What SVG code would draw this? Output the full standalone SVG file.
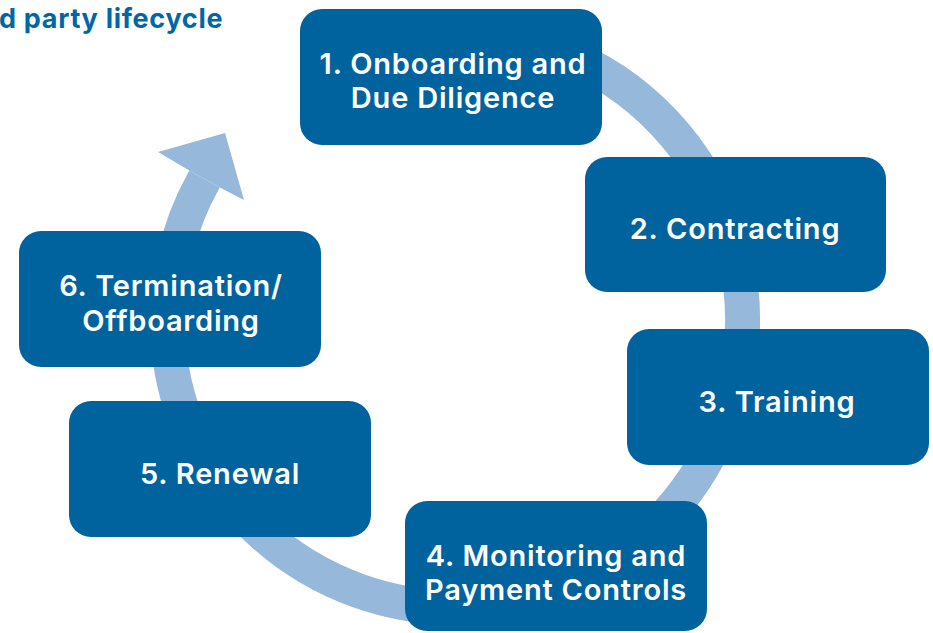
<svg xmlns="http://www.w3.org/2000/svg" width="933" height="633" viewBox="0 0 933 633">
<style>
.box{fill:#00639E}
.lbl{font-family:Inter,"Open Sans","Liberation Sans",sans-serif;font-weight:600;font-size:29px;letter-spacing:0.8px;fill:#ffffff;text-anchor:middle}
.title{font-family:Inter,"Open Sans","Liberation Sans",sans-serif;font-weight:700;font-size:27px;letter-spacing:0.7px;fill:#0067A5}
.ring{fill:none;stroke:#96B8DA;stroke-width:35}
</style>
<rect width="933" height="633" fill="#ffffff"/>
<text class="title" x="-1" y="28">d party lifecycle</text>
<g id="connectors">
<path class="ring" d="M 455 32.5 A 287.5 287.5 0 1 1 204.5 179"/>
<polygon points="189.3,170.4 158,152 225,133 244,200 219.8,187.5" fill="#96B8DA"/>
</g>
<g id="node1"><rect class="box" x="300" y="9" width="302" height="136" rx="22"/>
<text class="lbl" x="453" y="74">1. Onboarding and</text><text class="lbl" x="453" y="108">Due Diligence</text></g>
<g id="node2"><rect class="box" x="585" y="157" width="301" height="135" rx="22"/>
<text class="lbl" x="735" y="239">2. Contracting</text></g>
<g id="node3"><rect class="box" x="627" y="329" width="302" height="136" rx="22"/>
<text class="lbl" x="777" y="412">3. Training</text></g>
<g id="node4"><rect class="box" x="405" y="501" width="302" height="130" rx="22"/>
<text class="lbl" x="556" y="566">4. Monitoring and</text><text class="lbl" x="556" y="600">Payment Controls</text></g>
<g id="node5"><rect class="box" x="69" y="401" width="302" height="136" rx="22"/>
<text class="lbl" x="220" y="484">5. Renewal</text></g>
<g id="node6"><rect class="box" x="19" y="231" width="302" height="136" rx="22"/>
<text class="lbl" x="171" y="296">6. Termination/</text><text class="lbl" x="171" y="331">Offboarding</text></g>
</svg>
